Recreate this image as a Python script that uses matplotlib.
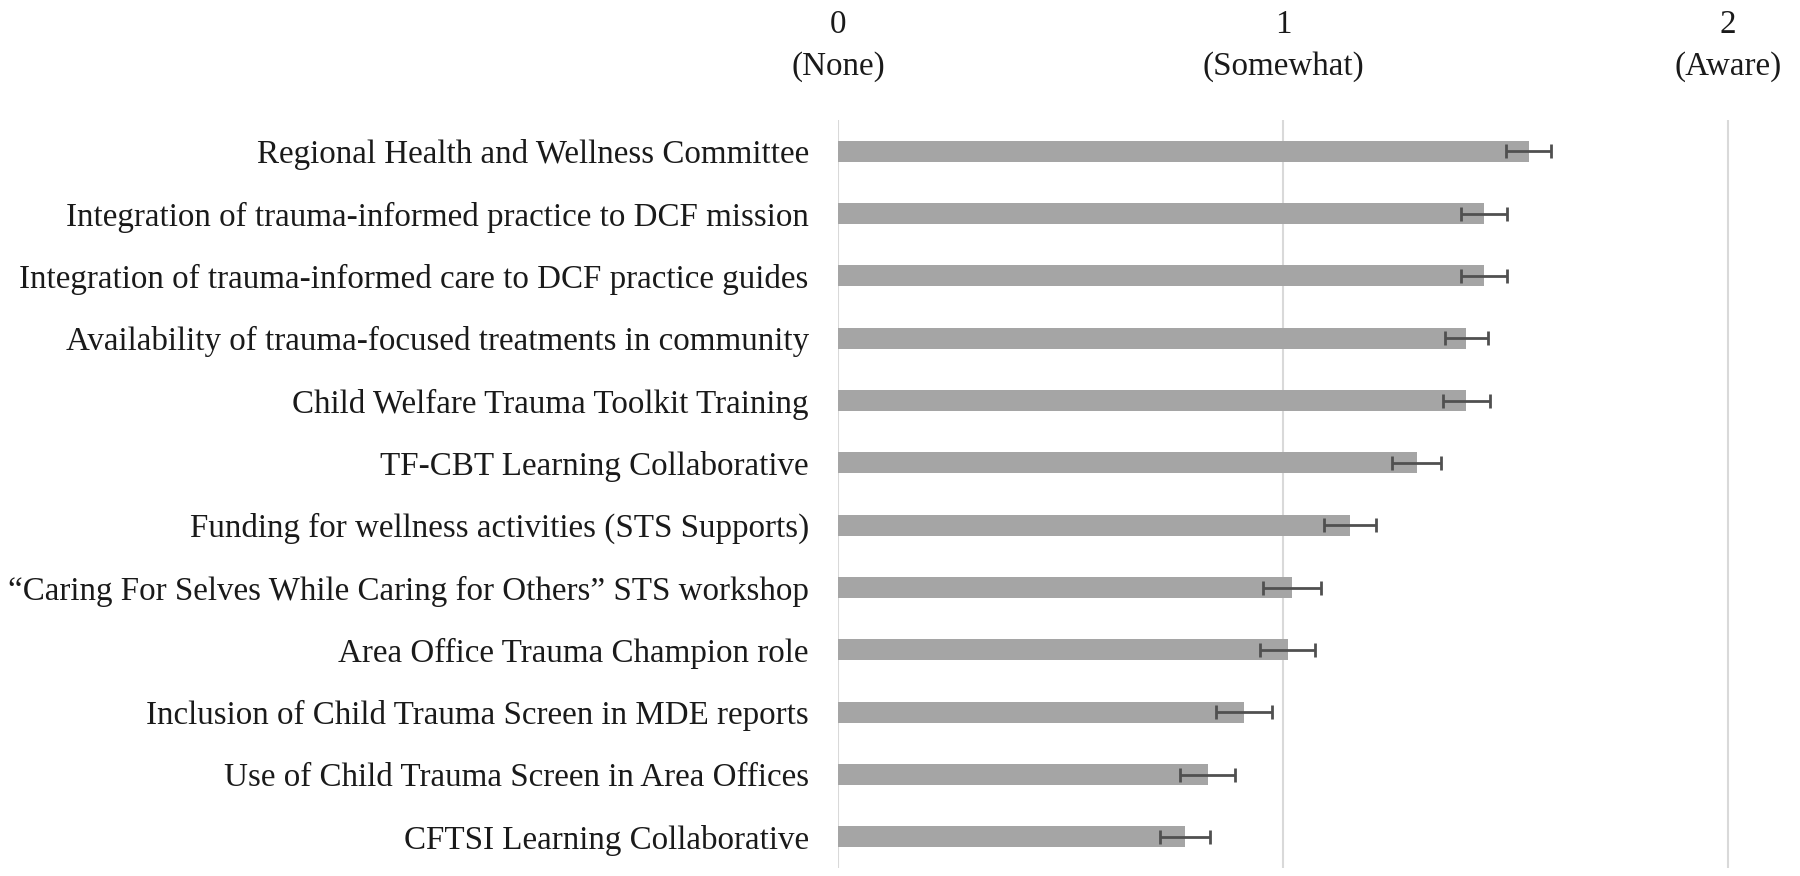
import numpy as np
import matplotlib
matplotlib.use("Agg")
import matplotlib.pyplot as plt

# Dados (de cima para baixo)
labels = [
    "Regional Health and Wellness Committee",
    "Integration of trauma-informed practice to DCF mission",
    "Integration of trauma-informed care to DCF practice guides",
    "Availability of trauma-focused treatments in community",
    "Child Welfare Trauma Toolkit Training",
    "TF-CBT Learning Collaborative",
    "Funding for wellness activities (STS Supports)",
    "\u201cCaring For Selves While Caring for Others\u201d STS workshop",
    "Area Office Trauma Champion role",
    "Inclusion of Child Trauma Screen in MDE reports",
    "Use of Child Trauma Screen in Area Offices",
    "CFTSI Learning Collaborative",
]
means = [1.552, 1.452, 1.452, 1.412, 1.412, 1.301, 1.151, 1.021, 1.011, 0.912, 0.831, 0.780]
errors = [0.050, 0.051, 0.051, 0.049, 0.053, 0.055, 0.059, 0.065, 0.062, 0.063, 0.062, 0.057]
tick_values = [0, 1, 2]
tick_labels = ["0\n(None)", "1\n(Somewhat)", "2\n(Aware)"]

plt.rcParams["font.family"] = ["Liberation Serif", "DejaVu Serif"]

fig = plt.figure(figsize=(18, 8.76), dpi=100)
ax = fig.add_axes([838 / 1800, 1 - 868 / 876, (2.05 * 445) / 1800, 748 / 876])

y = np.arange(len(labels))
ax.barh(y, means, height=0.34, color="#a5a5a5", zorder=2,
        xerr=errors, error_kw=dict(ecolor="#505050", elinewidth=2.0,
                                   capsize=5.2, capthick=2.0, zorder=3))

ax.set_ylim(len(labels) - 0.5, -0.5)
ax.set_xlim(0, 2.05)
ax.set_yticks(y)
ax.set_yticklabels(labels, fontsize=23.8, color="#1a1a1a")
ax.tick_params(axis="y", length=0, pad=21)

ax.xaxis.tick_top()
ax.set_xticks(tick_values)
ax.set_xticklabels(tick_labels, fontsize=23.8, color="#1a1a1a", linespacing=1.5)
ax.tick_params(axis="x", length=0, pad=27)

ax.grid(axis="x", color="#d9d9d9", linewidth=1.5, zorder=0)
for s in ax.spines.values():
    s.set_visible(False)

fig.savefig("out.png", dpi=100)
